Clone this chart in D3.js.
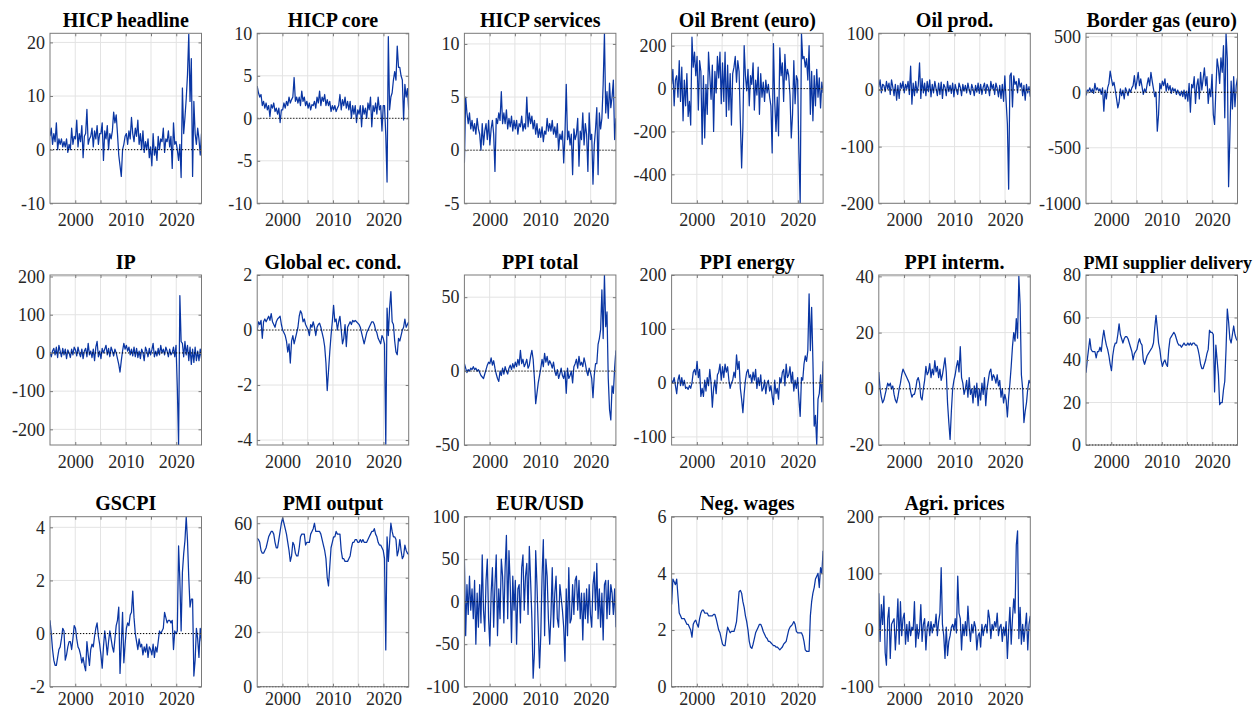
<!DOCTYPE html>
<html>
<head>
<meta charset="utf-8">
<script src="https://cdn.jsdelivr.net/npm/d3@7"></script>
<style>
    body { margin: 0; background: #ffffff; }
    svg { display: block; font-family: 'Liberation Serif', 'Times New Roman', serif; }
</style>
</head>
<body>
<svg id="chart" width="1257" height="710"></svg>
<script>
'use strict';

// sample runs 1995 - 2024, one value per quarter
var startYear = 1995;
var endYear = 2025;

var titles = ['HICP headline', 'HICP core', 'HICP services', 'Oil Brent (euro)', 'Oil prod.', 'Border gas (euro)',
    'IP', 'Global ec. cond.', 'PPI total', 'PPI energy', 'PPI interm.', 'PMI supplier delivery',
    'GSCPI', 'PMI output', 'EUR/USD', 'Neg. wages', 'Agri. prices'];

var yLimits = [[-10, 21.7], [-10, 10], [-5, 11], [-535, 258], [-200, 100], [-1000, 531],
    [-241, 204], [-4.18, 2], [-50, 65], [-115, 200], [-20, 40.5], [0, 80],
    [-2, 4.4], [0, 62.4], [-100, 100], [0, 6], [-100, 200]];

var yTickValues = [[-10, 0, 10, 20], [-10, -5, 0, 5, 10], [-5, 0, 5, 10], [-400, -200, 0, 200],
    [-200, -100, 0, 100], [-1000, -500, 0, 500], [-200, -100, 0, 100, 200], [-4, -2, 0, 2],
    [-50, 0, 50], [-100, 0, 100, 200], [-20, 0, 20, 40], [0, 20, 40, 60, 80],
    [-2, 0, 2, 4], [0, 20, 40, 60], [-100, -50, 0, 50, 100], [0, 2, 4, 6], [-100, 0, 100, 200]];

var xTickValues = [2000, 2005, 2010, 2015, 2020];
var xTickLabels = [2000, 2010, 2020];

var hicpHeadline = [2.5,4,1,3, 1.5,5,0,2, 1,2,0.5,1.5, 0.5,2,-0.5,1, 0,4,1,2.5, 2,5.5,0.5,3,
    1.5,4.5,-1.5,2.5, 3,7.5,1,2, 2.5,4,0.5,3.5, 2,4.5,1,3, 3,5,-2,3.5, 2,4.5,0,3,
    2,3.5,7,5, 6.5,3,-1,-3, -5,0,1,2.5, 3,1,3.5,2, 6,3,1.5,4, 2.5,5.5,1,3,
    0,3.5,-0.5,1.5, 0,2,-1.5,0.5, -3,3,-1,0.5, -2,2.5,0,2, 1.5,4,-0.5,2, 1.5,3.5,0.5,2.5,
    -3.5,5,1,1.5, 0,-2,1,-5.2, 11.5,3,6,9.5, 14,21.5,9,17, -5,9,3,1, 4,2,-1,3];

var hicpCore = [3.8,3,2.5,2.8, 1.5,2,1.2,1.8, 1,1.5,0.2,1.6, 1.2,1.8,0.8,1.2, 0.5,1.2,-0.5,1, 1,1.8,1.2,2,
    1.5,2.5,1.8,2.2, 2.5,4.8,2,2.5, 1.8,2.5,1.5,3.2, 2,2.5,1.5,2, 1.2,1.8,1,1.6, 1.5,2,1.2,2.5,
    1.8,3.2,1.5,2.5, 2,2.8,1.5,2.2, 1.5,2,0.8,1.5, 1,1.5,0.8,1.2, 1.5,2.8,1,2.2, 1.5,2.5,1.2,2,
    1,2,0,1.5, 0.5,1.5,-0.5,1, 0.5,1.5,-1,1.5, 0.5,1.2,0,1.8, 1,2.5,-1,1.5, 0.8,1.8,0.5,2.5,
    1,1.5,-1.5,1.5, 1.5,-2,-7.5,9.6, 1,2.5,3,4.5, 5.5,4.5,8.5,6, 6,5,4.5,-0.2, 4,2.5,3.5,1];

var hicpServices = [-1.2,5,3.5,2.5, 3.5,2,2.8,1.8, 2.5,1.5,3,2, 1.5,0,2.5,0.5, 1.8,2.5,1,2.8, 0.5,2,2.8,1.5,
    -2,3,2.5,3.5, 2.8,5.5,2.5,3.5, 2.5,3.8,2,3, 2.2,3.2,1.8,2.8, 2,2.8,1.5,2.5, 2.2,3.2,1.8,2.5,
    2,5,2.2,3.5, 2.5,3.2,2,2.8, 1.5,2.5,1.2,2, 1.2,2.2,0.8,1.8, 1.5,3,1.8,2.5, 1.8,2.8,1.5,2.2,
    1.2,2.5,0,1.5, 1,1.8,-1.2,1.5, 6.2,1,1.8,0.5, 1.5,-2.3,2,1, 1.5,3,-1.5,1.8, 1,3.5,0.5,2.5,
    1.5,-2,3.5,1, 1.5,-3.2,0.5,2, 4,-2.3,3.5,2, 3,6.2,11,3.5, 5.5,3,6.3,4, 5,6.6,1,3];

var oilBrent = [20,90,-80,40, 60,-40,130,-60, 100,-150,40,-80, 70,-130,-60,-170, 240,100,170,60, 150,-100,130,80,
    -260,60,-230,20, -120,170,60,-50, 110,-200,80,-20, 150,50,170,-70, 120,-60,170,-130, 110,-100,70,-170,
    70,100,150,30, 130,80,-150,-370, -180,200,60,-10, 90,-80,60,20, 120,-100,40,-30, 100,-120,70,-40,
    30,-60,40,-20, 20,-40,-80,-300, 210,-60,-200,-40, -220,190,60,120, -60,160,40,90, 60,-30,-230,-120,
    130,-70,60,40, -300,-535,258,140, 150,100,140,40, 200,-120,80,-150, 60,-80,90,-40, 50,-90,30,-20];

var oilProd = [5,18,-5,10, 8,-3,15,2, 12,-8,18,5, -10,10,-18,8, -15,12,3,15, -5,10,2,15,
    -8,42,-25,12, -10,15,-5,8, 48,-15,20,-5, 12,-10,15,-3, 18,-12,10,-5, 15,2,-10,12,
    -8,14,-15,10, 5,-10,15,-3, 8,-6,12,-12, 10,0,-8,12, 5,-10,10,-2, 8,-5,12,0,
    -8,10,2,-10, 8,-4,12,-6, 10,-8,5,12, -6,10,4,-10, 15,2,10,-8, 12,3,-12,8,
    -15,10,-20,25, -20,-60,-175,25, 30,-30,25,10, 15,-5,20,5, 12,-10,8,-18, 10,-5,6,-12];

var borderGas = [-30,20,10,40, 0,30,-10,80, 20,40,10,30, -20,40,-170,20, -60,40,80,190, 120,60,90,20,
    -60,-140,-90,30, -30,20,-60,40, 10,-30,30,0, 40,60,150,30, 100,180,60,120, 50,-20,30,0,
    70,130,60,180, 100,30,-40,0, -350,-200,80,30, 100,60,120,10, 80,20,60,-10, 40,10,30,-20,
    20,-10,-30,10, -40,20,-60,10, -80,80,-180,70, 40,140,-100,60, 120,-60,180,20, 120,220,60,140,
    -100,30,-40,160, -200,-290,20,300, 220,80,310,180, 420,-230,530,300, -850,-400,100,-150, 140,-130,60,130];

var indProd = [0,-10,5,12, -5,15,-12,20, 5,-10,12,-5, 10,-15,8,0, -12,10,-5,15, 8,-8,15,0,
    -10,10,-15,5, 12,-10,25,-5, 5,-12,10,-20, 15,30,-10,5, -15,12,0,10, 20,-5,12,-10,
    15,5,-8,10, 0,-15,-30,-50, -20,5,25,10, 20,5,15,-5, 10,-8,15,-10, 12,-12,5,-15,
    10,0,-20,15, 5,-10,12,-5, 8,25,-10,5, -8,12,-5,20, 0,10,-5,15, 5,-10,10,-5,
    0,15,-10,20, -90,-241,150,30, 25,-10,30,-5, 20,-20,15,-30, 10,-25,15,-20, 5,-20,10,-15];

var globalEcCond = [0,0.3,0.2,0.35, -0.3,0.3,0.4,0.3, 0.4,0.5,0.35,0.6, 0.3,0.2,0.1,0.3, 0.4,0.45,0.5,0.2, 0,-0.1,-0.2,-0.4,
    -0.8,-0.5,-1.2,-0.4, -0.2,-0.5,-0.3,-0.1, 0.1,0.5,0.7,0.6, 0.3,0.4,0.2,0.1, 0,-0.2,0.2,0.1, 0.3,0.1,-0.2,0.1,
    0.2,0.25,0.1,-0.1, -0.3,-0.6,-1.2,-2.2, -1.5,-0.8,-0.2,0.3, 0.9,0.3,0.4,0, 0.3,0.5,0,-0.5, -0.3,0.2,-0.6,0.1,
    0.2,0.3,0.2,0.35, 0.3,0.35,0.3,0.25, 0.2,0.1,-0.1,-0.3, -0.5,-0.3,-0.1,0, 0.1,0.2,0.3,0.3, 0.2,0,-0.1,-0.3,
    -0.4,-0.5,-0.2,-0.3, -0.5,-4.15,0.8,-0.2, 0.8,1.4,0.3,0.2, -0.4,-0.8,-0.9,-0.3, -0.4,-0.2,0,0.1, 0.4,0.1,0.2,0.3];

var ppiTotal = [5,2,-1,1, 0,2,1,3, 1,2,0,1, -1,-3,-4,-5, -2,1,4,6, 5,9,4,7,
    2,-2,-5,-7, 0,-3,2,-2, 3,0,-2,2, 4,1,5,2, 6,3,8,4, 14,5,8,3,
    5,8,2,4, 10,14,8,-5, -22,-15,-8,-3, 2,8,3,12, 6,10,4,7, 5,2,6,0,
    -3,1,-5,-2, 2,-3,-5,0, -15,2,-5,-3, 0,-8,3,5, 8,2,10,4, 6,3,9,5,
    0,-3,2,-1, -5,-18,-3,5, 5,18,22,28, 55,22,65,30, 40,-5,-26,-33, -10,-15,2,14];

var ppiEnergy = [5,0,10,-5, -20,5,15,-5, 10,-5,5,-10, -8,-12,-5,-10, 0,20,25,15, 40,10,25,-25,
    -10,-25,5,-15, 10,-5,25,0, -45,-10,5,-20, 15,20,35,5, 30,10,35,20, 30,5,-10,0,
    5,20,10,52, 25,40,-10,-30, -55,-20,5,20, 25,10,15,0, 20,5,25,-10, 10,-5,15,-15,
    -10,5,-20,0, 5,-15,-5,-25, -40,5,-20,-10, -30,10,0,20, 25,-5,35,10, 15,30,0,20,
    -15,5,-10,10, -30,-62,10,5, 35,50,40,60, 165,60,140,40, -80,-60,-115,-30, -20,15,-35,40];

var ppiInterm = [6,0,-3,-5, -4,-2,0,2, 1,2,0,1, -2,-4,-5,-3, 0,2,5,7, 6,5,4,3,
    2,-1,-3,-2, -2,0,3,4, 2,-3,-4,0, 3,8,5,6, 9,4,7,5, 10,6,8,4,
    7,3,5,8, 11,6,-5,-12, -18,-8,0,3, 5,8,10,6, 15,4,2,-2, 0,3,-3,4,
    -2,0,-5,1, -3,2,-6,0, -4,2,-2,4, -6,0,3,6, 7,3,5,4, 2,5,1,3,
    -3,0,-5,-2, -4,-10,-3,2, 8,15,20,17, 25,18,40,30, 5,0,-12,-8, -5,0,3,2];

var pmiSupplier = [34,40,45,50, 45,44,44,44, 41,44,44,46, 44,50,54,50, 47,45,42,38, 35,42,46,48,
    48,52,57,52, 50,48,50,51, 51,50,48,46, 44,40,43,44, 45,48,50,48, 47,40,38,40,
    42,43,44,45, 46,48,55,61, 55,48,45,40, 37,39,40,38, 37,45,50,51, 52,53,52,50,
    48,47,47,46, 47,48,47,47, 48,47,48,47, 48,48,47,47, 45,42,38,36, 36,38,40,43,
    45,54,53,53, 52,25,47,40, 33,19,20,20, 26,30,45,64, 58,50,48,52, 56,52,50,49];

var gscpi = [0.5,0,-0.6,-1, -1.2,-1.2,-0.9,-0.6, -0.5,-0.2,0.2,0.1, -1,-0.8,-0.5,-0.3, -0.3,-0.6,-0.2,0.3, 0.2,-0.2,-0.5,-0.6,
    -0.8,-1.1,-0.9,-1.2, -1.4,-0.3,-0.8,-1.2, -0.6,-0.4,-0.5,-0.1, 0.2,0.4,-0.1,-0.4, -0.8,-1.3,-0.5,0.1, -0.3,-0.8,-0.3,0.1,
    -0.2,-0.5,-0.7,-0.2, 0.3,0.5,1,-1.5, -0.4,0.8,-1.1,-0.4, 0.2,0.4,0.3,0.7, 0.8,1.6,0.6,0, -0.3,-0.6,-0.2,-0.5,
    -0.4,-0.8,-0.5,-0.7, -0.4,-0.9,-0.5,-0.6, -0.8,-0.4,-0.9,-0.5, -0.7,-0.3,0.1,0, 0.1,0.2,0.8,0.6, 0.4,0.5,0.5,0.4,
    0.5,-0.6,0.1,0, 0.1,3.3,2,0.1, 2.3,3,3.5,4.4, 3.5,2.1,1,1.3, 1.3,-1.6,-1,0.2, -0.2,-0.9,0.2,-0.3];

var pmiOutput = [54.5,54,53,50, 49,49,50,51, 53,55,56,57, 57,56,53,51, 51,54,57,60, 62,60,58,56,
    53,50,46,48, 53,52,49,48, 48,51,55,56, 56,56,52,53, 53,53,56,57, 58,60,57,57,
    57,57,56,54, 52,50,47,40, 37,44,51,53, 55,55,57,56, 56,56,50,47, 47,46,46,46,
    47,48,51,53, 53,54,54,53, 53,54,53,54, 53,53,53,54, 55,56,57,57, 58,56,55,53,
    52,52,51,50, 47,13.5,55,46, 53,60,57,55, 55,54,48,50, 54,50,47,48, 52,50,49,48.5];

var eurUsd = [50,-40,20,-15, 30,-10,15,-20, 25,-50,10,-30, 20,-25,55,-10, -35,25,50,-20, -52,10,40,-30,
    20,55,-40,15, -20,50,30,-25, 40,78,-20,60, 20,-48,30,-10, 25,-50,15,20, -25,40,55,-10,
    30,45,-15,65, 25,-20,-90,-60, 60,20,-30,-78, -40,30,73,-40, 50,30,-20,-50, -15,40,-30,10,
    30,-20,-30,20, 5,-10,-30,-70, 15,-40,40,-25, -20,20,-15,25, 30,-10,25,-20, 10,-45,10,-20,
    15,-25,20,-15, -30,20,35,-10, 45,-20,15,-30, 10,-45,20,25, -20,25,-15,20, 10,-15,15,-30];

var negWages = [2.9,3.8,3.7,3.6, 3.8,3.2,2.6,2.5, 2.4,2.4,2.4,2.3, 2.2,2.2,2.1,2, 1.75,2.2,2.3,2.35, 2.2,2.1,2.4,2.6,
    2.7,2.7,2.6,2.6, 2.6,2.5,2.5,2.5, 2.5,2.55,2.55,2.4, 2.2,2,1.9,1.7, 1.5,1.45,1.45,1.8, 2.1,2,1.9,1.95,
    1.95,1.95,2.1,2.3, 2.8,3.35,3.4,3.3, 3,2.8,2.5,2.3, 2,1.6,1.4,1.35, 1.5,1.7,1.9,2, 2.1,2.2,2.2,2.1,
    1.95,1.85,1.75,1.7, 1.6,1.6,1.55,1.5, 1.45,1.45,1.4,1.4, 1.35,1.3,1.35,1.4, 1.5,1.55,1.6,1.8, 2,2.1,2.15,2.2,
    2.3,2.2,1.95,1.9, 1.9,1.9,1.9,1.8, 1.6,1.3,1.25,1.25, 1.25,2.5,3,3.3, 3.5,3.8,3.9,4, 3.5,4.2,4,4.8];

var agriPrices = [65,-20,45,10, 60,-40,-62,20, 40,-50,10,15, 20,-35,5,55, -25,50,-10,20, 30,-25,10,-20,
    15,-10,5,0, 50,-30,10,-15, 0,45,-20,10, 20,-35,5,15, -10,15,-5,10, 5,28,-10,15,
    30,110,10,-10, -50,5,-45,-20, -10,5,10,0, 20,-5,95,30, 20,-35,10,-10, 15,-10,42,5,
    -20,10,-5,15, 5,-35,-10,-5, -30,10,-10,5, 10,-5,35,20, -15,10,0,15, 5,30,-10,5,
    10,-20,5,-10, 15,-50,0,40, -25,20,55,30, 150,175,-15,40, -25,10,-20,5, 30,-35,10,25];

var seriesList = [hicpHeadline, hicpCore, hicpServices, oilBrent, oilProd, borderGas,
    indProd, globalEcCond, ppiTotal, ppiEnergy, ppiInterm, pmiSupplier,
    gscpi, pmiOutput, eurUsd, negWages, agriPrices];

var svg = d3.select('#chart');
var panelW = 151.5,
    panelH = 170,
    colStep = 207.2,
    rowStep = 241.7,
    left0 = 50,
    top0 = 33.3;

var x = d3.scaleLinear().domain([startYear, endYear]).range([0, panelW]);

titles.forEach(function(title, k) {
    var col = k % 6,
        row = Math.floor(k / 6);
    var g = svg.append('g')
        .attr('transform', 'translate(' + (left0 + col * colStep) + ',' + (top0 + row * rowStep) + ')');
    var y = d3.scaleLinear().domain(yLimits[k]).range([panelH, 0]);
    var data = seriesList[k];
    var step = (endYear - startYear) / (data.length - 1);

    // grid
    g.selectAll('.vgrid').data(xTickValues).enter()
        .append('line')
        .attr('x1', function(d) { return x(d); })
        .attr('x2', function(d) { return x(d); })
        .attr('y1', 0).attr('y2', panelH)
        .style('stroke', '#e3e3e3').style('stroke-width', 1);
    g.selectAll('.hgrid').data(yTickValues[k]).enter()
        .append('line')
        .attr('x1', 0).attr('x2', panelW)
        .attr('y1', function(d) { return y(d); })
        .attr('y2', function(d) { return y(d); })
        .style('stroke', '#e3e3e3').style('stroke-width', 1);

    g.append('clipPath').attr('id', 'clip' + k)
        .append('rect').attr('width', panelW).attr('height', panelH);

    var line = d3.line()
        .x(function(d, i) { return x(startYear + i * step); })
        .y(function(d) { return y(d); });

    g.append('path')
        .datum(data)
        .attr('clip-path', 'url(#clip' + k + ')')
        .attr('d', line)
        .style('fill', 'none')
        .style('stroke', '#0a36a3')
        .style('stroke-width', 1.25)
        .style('stroke-linejoin', 'round');

    // dotted zero line
    g.append('line')
        .attr('x1', 0).attr('x2', panelW)
        .attr('y1', y(0)).attr('y2', y(0))
        .style('stroke', '#000')
        .style('stroke-width', 1)
        .style('stroke-dasharray', '1.2,1.8');

    // axes (ticks pointing inward like matlab)
    var axL = d3.axisLeft(y).tickValues(yTickValues[k]).tickSize(-3).tickSizeOuter(0).tickPadding(5)
        .tickFormat(function(d) { return String(d); });
    var axR = d3.axisRight(y).tickValues(yTickValues[k]).tickSize(-3).tickSizeOuter(0).tickFormat('');
    // last row sits close to the page bottom, keep its year labels inside
    var axB = d3.axisBottom(x).tickValues(xTickValues).tickSize(-3).tickSizeOuter(0).tickPadding(row === 2 ? 6 : 10)
        .tickFormat(function(d) { return xTickLabels.indexOf(d) >= 0 ? String(d) : ''; });
    var axT = d3.axisTop(x).tickValues(xTickValues).tickSize(-3).tickSizeOuter(0).tickFormat('');

    g.append('g').call(axL);
    g.append('g').attr('transform', 'translate(' + panelW + ',0)').call(axR);
    g.append('g').attr('transform', 'translate(0,' + panelH + ')').call(axB);
    g.append('g').call(axT);

    g.selectAll('.domain').remove();
    g.selectAll('.tick line').style('stroke', '#7a7a7a');
    g.selectAll('.tick text')
        .style('font-family', "'Liberation Serif', 'Times New Roman', serif")
        .style('font-size', '18px')
        .style('fill', '#262626');

    g.append('rect')
        .attr('width', panelW).attr('height', panelH)
        .style('fill', 'none')
        .style('stroke', '#7a7a7a')
        .style('stroke-width', 1);

    // the long title would run into the top tick label, so it sits a bit right and smaller
    var longTitle = title.length > 18;
    g.append('text')
        .attr('x', panelW / 2 + (longTitle ? 6 : 0))
        .attr('y', -6.5)
        .attr('text-anchor', 'middle')
        .style('font-size', longTitle ? '18px' : '20px')
        .style('font-weight', 'bold')
        .style('fill', '#000')
        .text(title);
});
</script>
</body>
</html>
